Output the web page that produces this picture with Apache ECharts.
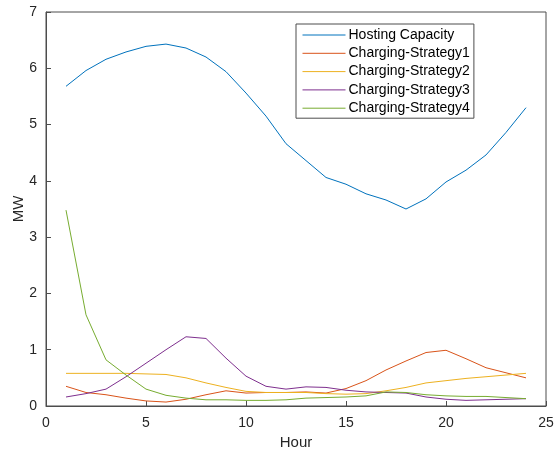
<!DOCTYPE html>
<html>
<head>
<meta charset="utf-8">
<script src="https://cdn.jsdelivr.net/npm/echarts@6/dist/echarts.min.js"></script>
<style>
  html, body { margin: 0; padding: 0; background: #fff; }
  #main { width: 555px; height: 455px; }
</style>
</head>
<body>
<div id="main"></div>
<script>
var hours = [1,2,3,4,5,6,7,8,9,10,11,12,13,14,15,16,17,18,19,20,21,22,23,24];
var hostingCapacity = [5.68,5.96,6.16,6.29,6.39,6.43,6.36,6.2,5.94,5.56,5.15,4.66,4.36,4.06,3.94,3.77,3.66,3.5,3.68,3.98,4.19,4.46,4.86,5.3];
var strategy1 = [0.35,0.24,0.2,0.14,0.09,0.07,0.12,0.2,0.27,0.23,0.24,0.24,0.25,0.23,0.31,0.45,0.64,0.8,0.95,0.99,0.84,0.68,0.59,0.5];
var strategy2 = [0.58,0.58,0.58,0.58,0.57,0.56,0.5,0.41,0.33,0.26,0.24,0.24,0.24,0.22,0.21,0.22,0.27,0.33,0.41,0.45,0.49,0.52,0.55,0.58];
var strategy3 = [0.16,0.22,0.3,0.52,0.76,1.0,1.23,1.2,0.85,0.53,0.35,0.3,0.34,0.33,0.28,0.25,0.24,0.23,0.16,0.12,0.1,0.11,0.12,0.13];
var strategy4 = [3.48,1.62,0.82,0.55,0.3,0.19,0.14,0.11,0.11,0.1,0.1,0.11,0.14,0.15,0.16,0.18,0.25,0.24,0.2,0.18,0.17,0.17,0.15,0.13];

var names = ['Hosting Capacity','Charging-Strategy1','Charging-Strategy2','Charging-Strategy3','Charging-Strategy4'];
var colors = ['#0072BD','#D95319','#EDB120','#7E2F8E','#77AC30'];
var values = [hostingCapacity, strategy1, strategy2, strategy3, strategy4];

function pairs(ys) {
  return hours.map(function (h, i) { return [h, ys[i]]; });
}

var chart = echarts.init(document.getElementById('main'));
var font = 'Liberation Sans, Arial, sans-serif';

chart.setOption({
  animation: false,
  backgroundColor: '#fff',
  color: colors,
  grid: {
    left: 46, right: 9, top: 12, bottom: 49,
    outerBoundsMode: 'none',
    containLabel: false,
    show: true, borderColor: '#4d4d4d', borderWidth: 1
  },
  legend: {
    data: names,
    orient: 'vertical',
    left: 296, top: 24,
    itemWidth: 43, itemHeight: 10, itemGap: 4.3,
    padding: [4, 4, 3, 6],
    borderColor: '#4d4d4d', borderWidth: 1,
    backgroundColor: '#fff',
    itemStyle: { opacity: 0 },
    lineStyle: { width: 1 },
    textStyle: { fontFamily: font, fontSize: 14, color: '#000', padding: [0, 0, 0, -2] }
  },
  xAxis: {
    type: 'value', min: 0, max: 25, interval: 5,
    name: 'Hour', nameLocation: 'middle', nameGap: 25,
    nameTextStyle: { fontFamily: font, fontSize: 15, color: '#262626' },
    axisLine: { lineStyle: { color: '#4d4d4d' } },
    axisTick: { inside: true, length: 5, lineStyle: { color: '#4d4d4d' } },
    axisLabel: { fontFamily: font, fontSize: 14, color: '#262626', margin: 10 },
    splitLine: { show: false }
  },
  yAxis: {
    type: 'value', min: 0, max: 7, interval: 1,
    name: 'MW', nameLocation: 'middle', nameGap: 20,
    nameMoveOverlap: false,
    nameTextStyle: { fontFamily: font, fontSize: 15, color: '#262626' },
    axisLine: { show: true, lineStyle: { color: '#4d4d4d' } },
    axisTick: { show: true, inside: true, length: 5, lineStyle: { color: '#4d4d4d' } },
    axisLabel: { fontFamily: font, fontSize: 14, color: '#262626', margin: 9 },
    splitLine: { show: false }
  },
  series: names.map(function (n, i) {
    return {
      name: n,
      type: 'line',
      data: pairs(values[i]),
      symbol: 'none',
      lineStyle: { width: 1, color: colors[i] },
      itemStyle: { color: colors[i] }
    };
  })
});
</script>
</body>
</html>
